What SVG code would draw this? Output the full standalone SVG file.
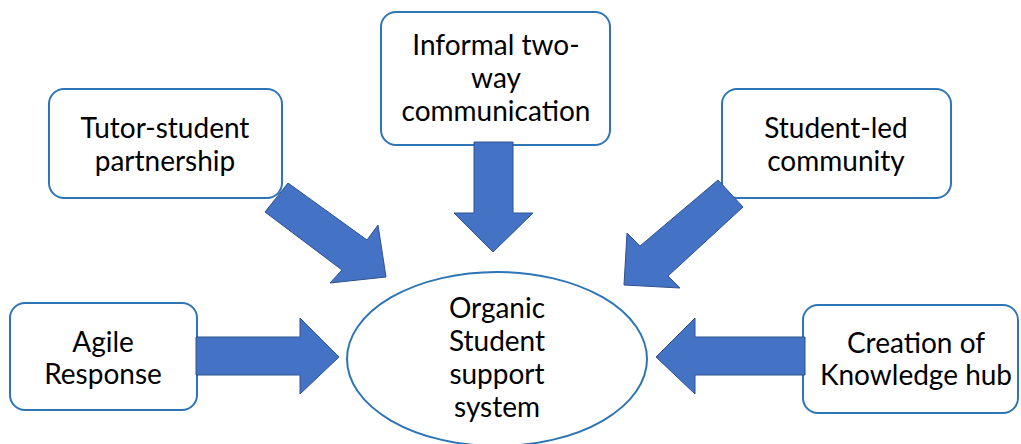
<svg xmlns="http://www.w3.org/2000/svg" width="1021" height="444" viewBox="0 0 1021 444">
<style>
.box{fill:#fff;stroke:#2e75b6;stroke-width:2}
.arr{fill:#4472c4;stroke:#2f528f;stroke-width:1}
text{font-family:Lato,"Liberation Sans",sans-serif;font-size:28px;fill:#000;text-anchor:middle}
</style>
<rect width="1021" height="444" fill="#fff"/>
<g id="node-tutor"><rect class="box" x="49" y="89" width="233" height="109" rx="15"/>
<text x="165" y="138">Tutor-student</text><text x="165" y="171">partnership</text></g>
<g id="node-informal"><rect class="box" x="381" y="12" width="229" height="133" rx="15"/>
<text x="496" y="55">Informal two-</text><text x="496" y="88">way</text><text x="496" y="121">communication</text></g>
<g id="node-studentled"><rect class="box" x="722" y="89" width="229" height="109" rx="15"/>
<text x="836" y="138">Student-led</text><text x="836" y="171">community</text></g>
<g id="node-agile"><rect class="box" x="10" y="303" width="187" height="107" rx="15"/>
<text x="103" y="352">Agile</text><text x="103" y="384">Response</text></g>
<g id="node-creation"><rect class="box" x="803" y="305" width="215" height="108" rx="15"/>
<text x="916" y="353">Creation of</text><text x="916" y="385">Knowledge hub</text></g>
<g id="node-organic"><ellipse class="box" cx="497" cy="359" rx="150" ry="87"/>
<text x="497" y="318">Organic</text><text x="497" y="351">Student</text><text x="497" y="384">support</text><text x="497" y="417">system</text></g>
<g id="connectors">
<polygon class="arr" points="474,142 513,142 513,213 533,213 493,252 454,213 474,213"/>
<polygon class="arr" points="196,337 300,337 300,318 339,357 300,394 300,375 196,375"/>
<polygon class="arr" points="805,337 695,337 695,318 656,357 695,394 695,375 805,375"/>
<polygon class="arr" points="288,183 367,240 378,225 386,277 330,283 342,270 265,212"/>
<polygon class="arr" points="718,180 640,246 627,233 624,285 680,288 668,276 743,207"/>
</g>
</svg>
